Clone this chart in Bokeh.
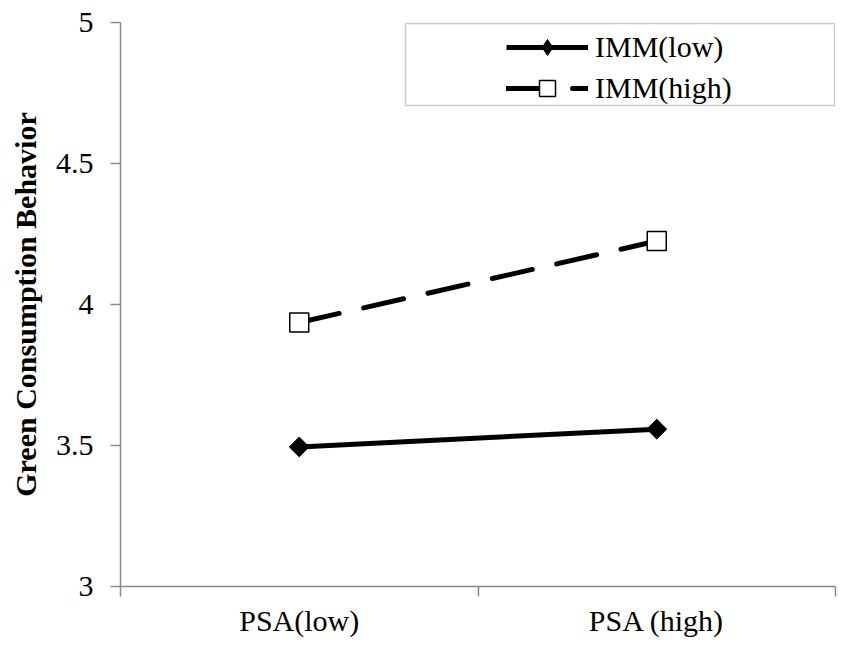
import math
from bokeh.plotting import figure
from bokeh.models import Range1d, FixedTicker, Legend, LegendItem, BoxAnnotation
from bokeh.embed import file_html
from bokeh.resources import INLINE

# ---- data ----
categories = ["PSA(low)", "PSA (high)"]
series_names = ["IMM(low)", "IMM(high)"]
imm_low = [3.495, 3.558]
imm_high = [3.936, 4.225]
y_ticks = [3, 3.5, 4, 4.5, 5]
y_tick_labels = ["3", "3.5", "4", "4.5", "5"]
y_title = "Green Consumption Behavior"

# category centres and boundaries on a numeric axis
x_centers = [i + 0.5 for i in range(len(categories))]
x_bounds = [float(i) for i in range(len(categories) + 1)]

FONT = "Liberation Serif"
GREY = "#8a8a8a"

p = figure(width=843, height=639, output_backend="svg", toolbar_location=None,
           x_range=Range1d(x_bounds[0], x_bounds[-1]),
           y_range=Range1d(y_ticks[0], y_ticks[-1]),
           min_border_left=120, min_border_right=8, min_border_top=22, min_border_bottom=51)
p.outline_line_color = None
p.xgrid.visible = False
p.ygrid.visible = False
p.background_fill_color = "white"
p.border_fill_color = "white"

# legend frame (layout decoration, frame-relative pixels)
box = BoxAnnotation(left=285, right=714, top=563, bottom=481,
                    left_units="screen", right_units="screen",
                    top_units="screen", bottom_units="screen",
                    fill_color="white", fill_alpha=1.0,
                    line_color="#555555", line_width=1.5)
p.add_layout(box)

r_low_line = p.line(x_centers, imm_low, line_width=5, line_color="black")
# diamond key (used by the legend), covered by the rotated square on the plot
r_low_key = p.scatter(x_centers, imm_low, marker="diamond", size=19,
                      fill_color="black", line_color="black")
r_low_pts = p.scatter(x_centers, imm_low, marker="square", angle=math.pi / 4,
                      size=14, fill_color="black", line_color="black")
r_high_line = p.line(x_centers, imm_high, line_width=5, line_color="black",
                     line_dash="41 25", line_cap="round")
r_high_pts = p.scatter(x_centers, imm_high, marker="square", size=19,
                       fill_color="white", line_color="black", line_width=1.5)

# x axis
xa = p.xaxis[0]
xa.ticker = FixedTicker(ticks=x_centers, minor_ticks=x_bounds)
xa.major_label_overrides = {c: l for c, l in zip(x_centers, categories)}
xa.major_tick_out = 0
xa.major_tick_in = 0
xa.minor_tick_out = 10
xa.minor_tick_in = 0
xa.minor_tick_line_color = GREY
xa.minor_tick_line_width = 1.5
xa.major_label_standoff = 7

# y axis
ya = p.yaxis[0]
ya.ticker = FixedTicker(ticks=y_ticks)
ya.major_label_overrides = {t: l for t, l in zip(y_ticks, y_tick_labels)}
ya.major_tick_out = 10
ya.major_tick_in = 0
ya.minor_tick_line_color = None
ya.major_label_standoff = 17
ya.axis_label = y_title
ya.axis_label_text_font = FONT
ya.axis_label_text_font_size = "30px"
ya.axis_label_text_font_style = "bold"
ya.axis_label_text_color = "black"
ya.axis_label_standoff = 11

for ax in (xa, ya):
    ax.axis_line_color = GREY
    ax.axis_line_width = 1.5
    ax.major_tick_line_color = GREY
    ax.major_tick_line_width = 1.5
    ax.major_label_text_font = FONT
    ax.major_label_text_font_size = "30px"
    ax.major_label_text_color = "black"

legend = Legend(items=[
    LegendItem(label=series_names[0], renderers=[r_low_line, r_low_key]),
    LegendItem(label=series_names[1], renderers=[r_high_line, r_high_pts]),
], location=(386, 478), orientation="vertical",
    border_line_color=None, background_fill_alpha=0,
    padding=2, spacing=1, margin=0,
    glyph_width=82, glyph_height=40, label_height=40, label_standoff=7,
    label_text_font=FONT, label_text_font_size="30px", label_text_color="black")
p.add_layout(legend)

open("out.html", "w").write(file_html(p, INLINE))
